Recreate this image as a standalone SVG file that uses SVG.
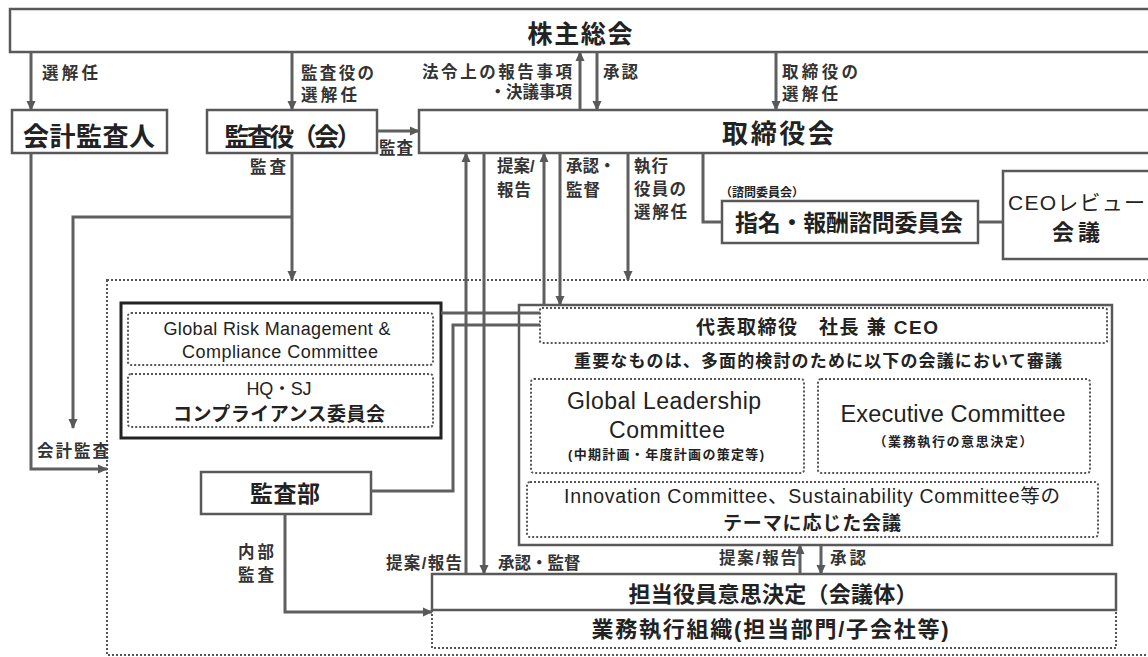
<svg xmlns="http://www.w3.org/2000/svg" width="1148" height="657" viewBox="0 0 1148 657">
<defs>
<marker id="arr" viewBox="0 0 10 10" markerUnits="userSpaceOnUse" markerWidth="10" markerHeight="10" refX="9" refY="5" orient="auto">
<path d="M0,0.5 L10,5 L0,9.5 z" fill="#595959"/>
</marker>
<style>
.box{fill:#fff;stroke:#595959;stroke-width:2.5}
.thick{fill:#fff;stroke:#222;stroke-width:3}
.dot{fill:none;stroke:#555;stroke-width:2;stroke-dasharray:2 2}
.ln{fill:none;stroke:#5f5f5f;stroke-width:3}
.a{marker-end:url(#arr)}
.jp{font-family:"Liberation Sans","Noto Sans CJK JP",sans-serif;fill:#222;font-weight:700}
.reg{font-weight:400}
.lat{font-family:"Liberation Sans","Noto Sans CJK JP",sans-serif;fill:#222}
.lb{font-family:"Liberation Sans","Noto Sans CJK JP",sans-serif;fill:#333;font-weight:700;font-size:16.5px}
.m{text-anchor:middle}
.e{text-anchor:end}
</style>
</defs>

<g id="outer-area">
<rect class="dot" x="107" y="280" width="1060" height="375"/>
</g>

<g id="kabunushi">
<rect class="box" x="10" y="9" width="1150" height="43"/>
<text class="jp m" x="580" y="43" font-size="25" textLength="105">株主総会</text>
</g>

<g id="kaikei">
<rect class="box" x="12" y="110" width="155" height="43"/>
<text class="jp m" x="89" y="146" font-size="26" textLength="132">会計監査人</text>
</g>

<g id="kansayaku">
<rect class="box" x="207" y="110" width="170" height="43"/>
<text class="jp m" x="293" y="146" font-size="25" textLength="137">監査役（会）</text>
</g>

<g id="torishimariyakukai">
<rect class="box" x="419" y="110" width="740" height="43"/>
<text class="jp m" x="778" y="143" font-size="26" textLength="112">取締役会</text>
</g>

<g id="shimei">
<text class="jp" x="720" y="197" font-size="12" textLength="84">（諮問委員会）</text>
<rect class="box" x="722" y="201" width="256" height="42"/>
<text class="jp m" x="849" y="231" font-size="23" textLength="228">指名・報酬諮問委員会</text>
</g>

<g id="ceo-review">
<rect class="box" x="1003" y="171" width="160" height="88"/>
<text class="jp reg" x="1008" y="210" font-size="21" textLength="137">CEOレビュー</text>
<text class="jp m" x="1076" y="240" font-size="22" textLength="48">会議</text>
</g>

<g id="compliance">
<rect class="thick" x="121" y="303" width="320" height="135"/>
<rect class="dot" x="128" y="313" width="305" height="52" rx="3"/>
<text class="lat m" x="277" y="335" font-size="18" fill="#333" textLength="227">Global Risk Management &amp;</text>
<text class="lat m" x="280" y="358" font-size="18" fill="#333" textLength="196">Compliance Committee</text>
<rect class="dot" x="128" y="374" width="305" height="53" rx="3"/>
<text class="lat m" x="279" y="395" font-size="18" fill="#333" textLength="65">HQ・SJ</text>
<text class="jp m" x="279" y="421" font-size="19" textLength="212">コンプライアンス委員会</text>
</g>

<g id="kansabu">
<rect class="box" x="201" y="472" width="170" height="42"/>
<text class="jp m" x="285" y="502" font-size="23" textLength="70">監査部</text>
</g>

<g id="ceo-group">
<rect class="box" x="519" y="305" width="593" height="240"/>
<rect class="dot" x="540" y="308" width="567" height="35" rx="2"/>
<text class="jp m" x="817" y="334" font-size="19" textLength="242">代表取締役　社長 兼 CEO</text>
<text class="jp m" x="818" y="367" font-size="17" textLength="488">重要なものは、多面的検討のために以下の会議において審議</text>
</g>

<g id="glc">
<rect class="dot" x="531" y="379" width="273" height="94" rx="3"/>
<text class="lat m" x="664" y="409" font-size="23" textLength="194">Global Leadership</text>
<text class="lat m" x="667" y="438" font-size="23" textLength="116">Committee</text>
<text class="jp m" x="666" y="459" font-size="13" textLength="196">(中期計画・年度計画の策定等)</text>
</g>

<g id="exec">
<rect class="dot" x="818" y="379" width="272" height="94" rx="3"/>
<text class="lat m" x="953" y="422" font-size="23.5" fill="#666" textLength="225">Executive Committee</text>
<text class="jp m" x="953" y="446" font-size="13" fill="#444" textLength="159">（業務執行の意思決定）</text>
</g>

<g id="innovation">
<rect class="dot" x="527" y="482" width="571" height="55" rx="3"/>
<text class="lat m" x="812" y="503" font-size="19.5" textLength="496">Innovation Committee、Sustainability  Committee等の</text>
<text class="jp m" x="812" y="530" font-size="19" textLength="178">テーマに応じた会議</text>
</g>

<g id="tanto">
<rect class="box" x="432" y="574" width="684" height="36"/>
<text class="jp m" x="773" y="602" font-size="22" textLength="289">担当役員意思決定（会議体）</text>
</g>

<g id="gyomu">
<path class="dot" d="M432,610 V648 H1116 V610"/>
<text class="jp m" x="770" y="637" font-size="22" textLength="357">業務執行組織(担当部門/子会社等)</text>
</g>

<g id="connectors">
<path class="ln a" d="M31,52 V110"/>
<path class="ln a" d="M292,52 V110"/>
<path class="ln a" d="M580,110 V52"/>
<path class="ln a" d="M597,52 V110"/>
<path class="ln a" d="M776,52 V110"/>
<path class="ln a" d="M377,131 H419"/>
<path class="ln a" d="M292,153 V280"/>
<path class="ln a" d="M292,217 H73 V428"/>
<path class="ln a" d="M31,153 V469 H107"/>
<path class="ln a" d="M466,574 V153"/>
<path class="ln a" d="M484,153 V574"/>
<path class="ln a" d="M544,305 V153"/>
<path class="ln a" d="M560,153 V305"/>
<path class="ln a" d="M628,153 V280"/>
<path class="ln" d="M703,153 V222 H722"/>
<path class="ln" d="M978,222 H1003"/>
<path class="ln" d="M441,313 H540"/>
<path class="ln" d="M371,491 H453 V325 H540"/>
<path class="ln a" d="M285,514 V612 H432"/>
<path class="ln a" d="M800,574 V545"/>
<path class="ln a" d="M821,545 V574"/>
</g>

<g id="labels">
<text class="lb" x="42" y="79" textLength="56">選解任</text>
<text class="lb" x="301" y="79" textLength="73">監査役の</text>
<text class="lb" x="301" y="101" textLength="56">選解任</text>
<text class="lb e" x="572" y="78" textLength="150">法令上の報告事項</text>
<text class="lb e" x="572" y="98">・決議事項</text>
<text class="lb" x="603" y="78" textLength="35">承認</text>
<text class="lb" x="782" y="78" textLength="76">取締役の</text>
<text class="lb" x="782" y="100" textLength="56">選解任</text>
<text class="lb" x="379" y="154" textLength="34">監査</text>
<text class="lb" x="250" y="173" textLength="36">監査</text>
<text class="lb" x="497" y="172">提案/</text>
<text class="lb" x="497" y="196" textLength="34">報告</text>
<text class="lb" x="566" y="172">承認・</text>
<text class="lb" x="566" y="196" textLength="34">監督</text>
<text class="lb" x="634" y="172" textLength="34">執行</text>
<text class="lb" x="634" y="195" textLength="52">役員の</text>
<text class="lb" x="634" y="218" textLength="53">選解任</text>
<text class="lb" x="37" y="457" textLength="72">会計監査</text>
<text class="lb" x="238" y="558" textLength="36">内部</text>
<text class="lb" x="238" y="581" textLength="36">監査</text>
<text class="lb" x="386" y="569" textLength="76">提案/報告</text>
<text class="lb" x="498" y="569">承認・監督</text>
<text class="lb" x="719" y="564" textLength="78">提案/報告</text>
<text class="lb" x="830" y="564" textLength="36">承認</text>
</g>
</svg>
